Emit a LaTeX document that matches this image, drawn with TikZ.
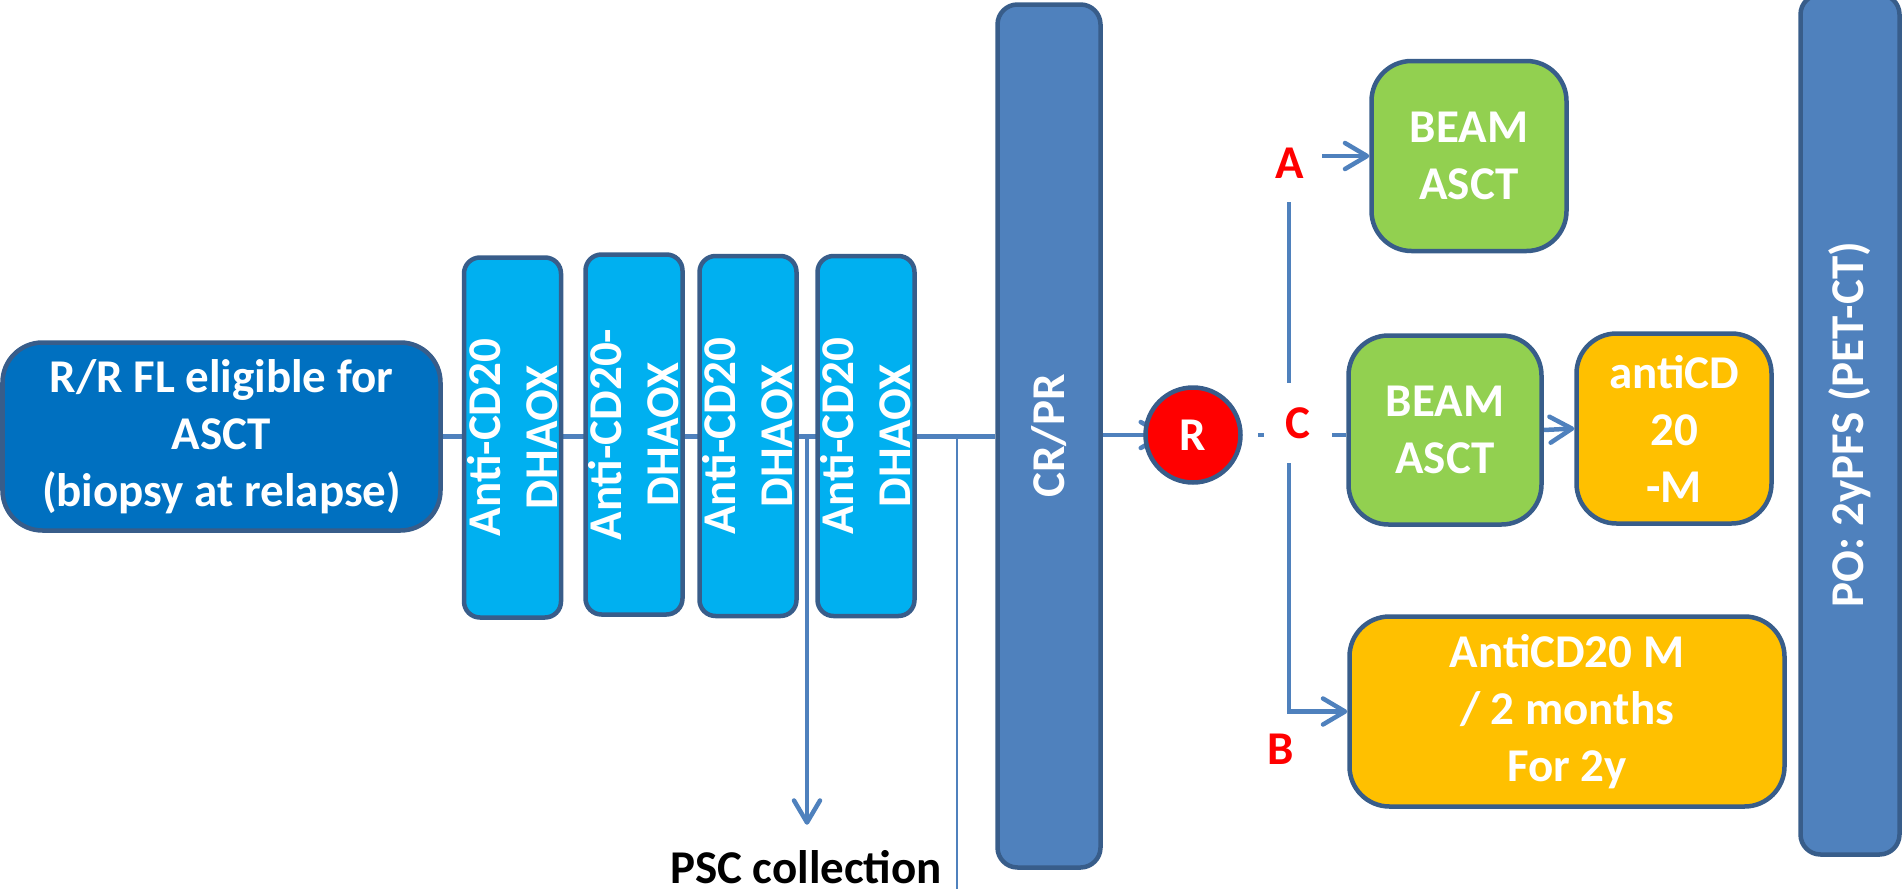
\documentclass[tikz,border=0pt]{standalone}
\usepackage{fontspec}
\setmainfont{Carlito}
\usetikzlibrary{arrows.meta,backgrounds}
\definecolor{rrblue}{HTML}{0070C0}
\definecolor{courseblue}{HTML}{00B0F0}
\definecolor{barblue}{HTML}{4F81BD}
\definecolor{edgecol}{HTML}{385D8A}
\definecolor{beamgreen}{HTML}{92D050}
\definecolor{maintgold}{HTML}{FFC000}
\definecolor{linkcol}{HTML}{4F81BD}

\begin{document}
\begin{tikzpicture}[x=1pt,y=-1pt,
 blk/.style={draw=edgecol, line width=4.5pt, inner sep=0pt, align=center, text=white, font=\bfseries\fontsize{47}{57}\selectfont},
 course/.style={blk, fill=courseblue, rotate=90, rounded corners=16pt, minimum width=360pt, minimum height=97pt},
 bar/.style={blk, fill=barblue, rotate=90, rounded corners=20pt},
 arm/.style={blk, rounded corners=40pt, minimum width=195pt, minimum height=190pt},
 lbl/.style={text=red, font=\bfseries\fontsize{47}{57}\selectfont, inner sep=0pt},
 link/.style={draw=linkcol, line width=4.5pt},
 tip/.style={-{Straight Barb[round,length=22pt,width=26pt]}}]
 \useasboundingbox (0,0) rectangle (1903,889);

 \node[blk, fill=rrblue, rounded corners=40pt, minimum width=438pt, minimum height=188pt] (rr) at (221.5,436.5) {R/R FL eligible for\\ASCT\\(biopsy at relapse)};

 \node[course] (a1) at (512.5,437.5) {Anti-CD20\\DHAOX};
 \node[course] (a2) at (634,434.5) {Anti-CD20-\\DHAOX};
 \node[course] (a3) at (748,436) {Anti-CD20\\DHAOX};
 \node[course] (a4) at (866,436) {Anti-CD20\\DHAOX};

 \node[font=\bfseries\fontsize{47}{57}\selectfont, inner sep=0pt, anchor=base] (psc) at (806,883) {PSC collection};

 \node[bar, minimum width=863pt, minimum height=103pt] (crpr) at (1049,436) {CR/PR};
 \node[blk, circle, fill=red, minimum size=95pt] (rnd) at (1193,435) {R};

 \node[arm, fill=beamgreen] (beam1) at (1469,156) {BEAM\\ASCT};
 \node[arm, fill=beamgreen, minimum width=193pt, minimum height=189pt] (beam2) at (1445,430) {BEAM\\ASCT};
 \node[arm, fill=maintgold] (anticd) at (1674,428.5) {antiCD\\20\\-M};
 \node[arm, fill=maintgold, minimum width=435pt] (anti2m) at (1567,711.5) {AntiCD20 M\\/ 2 months\\For 2y};

 \node[bar, minimum width=860pt, minimum height=99pt] (po) at (1850,424.5) {PO: 2yPFS (PET-CT)};

 \node[lbl, fill=white, minimum width=64pt, minimum height=78pt] (la) at (1290,163) {A};
 \node[lbl, fill=white, minimum width=68pt, minimum height=80pt] (lc) at (1298,423) {C};
 \node[lbl] (lb) at (1281,749) {B};

 \coordinate (psctop) at (807,438);
 \coordinate (cut) at (957,438);
 \coordinate (cutend) at (957,889);
 \coordinate (split) at (1289,435);

 \begin{scope}[on background layer]
  \draw[link] (rr.east) -- (rr.east -| crpr.north);
  \draw[link, tip, shorten >=25pt] (psctop) -- (psctop |- psc.north);
  \draw[draw=linkcol, line width=2pt] (cut) -- (cutend);
  \draw[link, tip, shorten >=28pt] (crpr.south |- rnd.center) -- (rnd.center);
  \draw[link, shorten <=15pt] (rnd.east) -- (rnd.east -| beam2.west);
  \draw[link, tip] (split) |- (beam1.west);
  \draw[link, tip] (split) |- (anti2m.west);
  \draw[link, tip] (beam2.east) -- (anticd.west);
 \end{scope}
\end{tikzpicture}
\end{document}
